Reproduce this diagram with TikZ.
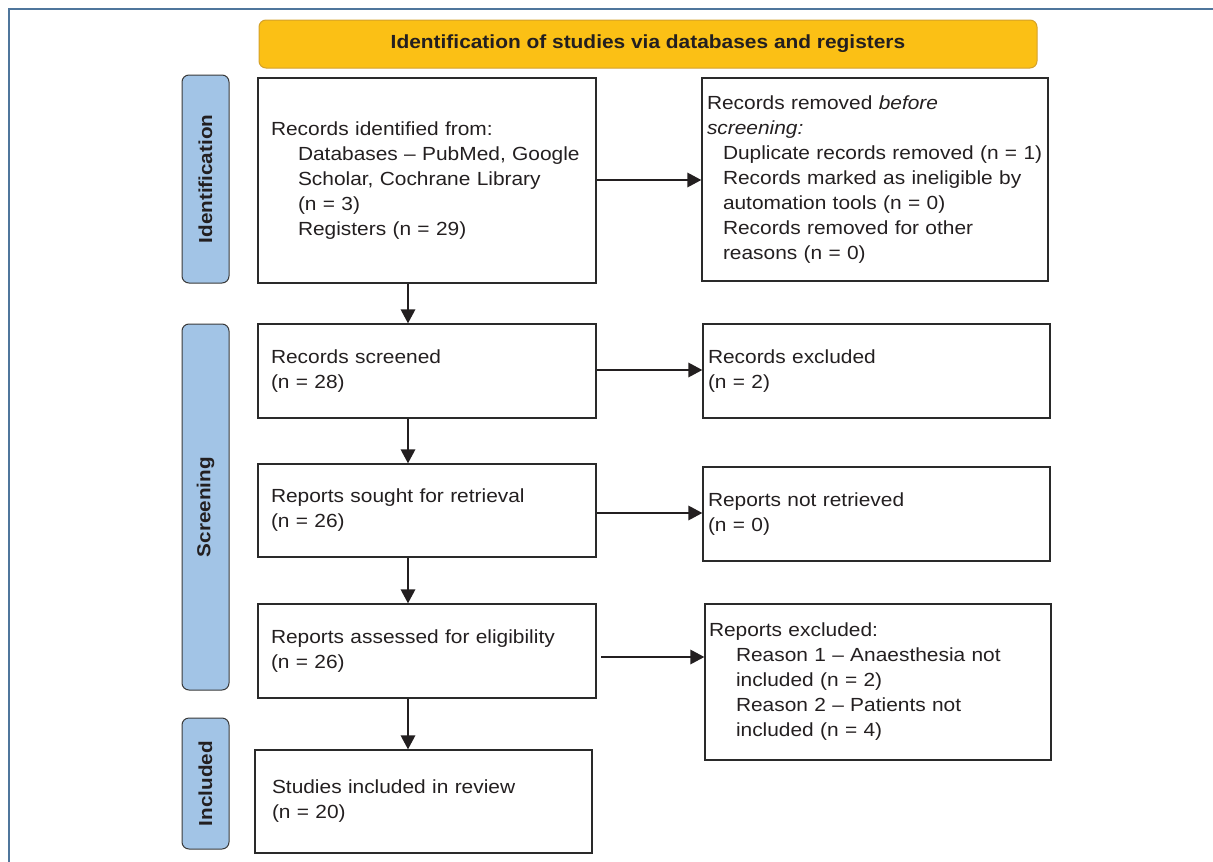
\documentclass[tikz,border=0pt]{standalone}
\usepackage{fontspec}
\setmainfont{Liberation Sans}[FakeStretch=1.1]
\usetikzlibrary{arrows.meta}
\definecolor{framecol}{HTML}{4F769C}
\definecolor{hdrfill}{HTML}{FBC015}
\definecolor{hdrdraw}{HTML}{D4A12A}
\definecolor{sidefill}{HTML}{A2C4E6}
\definecolor{sidedraw}{HTML}{3A3A3A}
\definecolor{boxdraw}{HTML}{2A2A2A}
\definecolor{txt}{HTML}{231F20}
\tikzset{
  box/.style={draw=boxdraw, line width=1.1pt, rectangle, align=left, inner ysep=0pt,
    font=\fontsize{19pt}{25pt}\selectfont, text=txt},
  sidebar/.style={draw=sidedraw, fill=sidefill, line width=1pt, rounded corners=7pt,
    minimum width=47pt, inner sep=0pt},
  sidelabel/.style={rotate=90, font=\fontsize{18.8pt}{22pt}\selectfont\bfseries, text=txt},
  flow/.style={line width=2.9pt, -{Triangle[length=14pt,width=14pt]}, txt}
}
\begin{document}
\begin{tikzpicture}[x=1pt,y=-1pt]
\useasboundingbox (0,0) rectangle (1213,862);
% frame
\draw[framecol, line width=1.6pt] (9,870) -- (9,9) -- (1220,9);
% header
\node[draw=hdrdraw, fill=hdrfill, line width=1pt, rounded corners=7pt,
  minimum width=778pt, minimum height=48pt, inner sep=0pt,
  font=\fontsize{19pt}{22pt}\selectfont\bfseries, text=txt] (hdr) at (648,44)
  {Identification of studies via databases and registers};
% side bars
\node[sidebar, minimum height=208pt] (sid) at (205.5,179) {};
\node[sidelabel] at (sid.center) {Identification};
\node[sidebar, minimum height=366pt] (sscr) at (205.5,507) {};
\node[sidelabel] at (sscr.center) {Screening};
\node[sidebar, minimum height=131pt] (sinc) at (205.5,783.5) {};
\node[sidelabel] at (sinc.center) {Included};
% left boxes
\node[box, minimum width=338pt, minimum height=205pt, inner xsep=13pt, text width=312pt] (b1) at (427,180.5)
  {Records identified from:\\
   \hspace*{27pt}Databases -- PubMed, Google\\
   \hspace*{27pt}Scholar, Cochrane Library\\
   \hspace*{27pt}(n = 3)\\
   \hspace*{27pt}Registers (n = 29)};
\node[box, minimum width=338pt, minimum height=94pt, inner xsep=13pt, text width=312pt] (b2) at (427,371)
  {Records screened\\(n = 28)};
\node[box, minimum width=338pt, minimum height=93pt, inner xsep=13pt, text width=312pt] (b3) at (427,510.5)
  {Reports sought for retrieval\\(n = 26)};
\node[box, minimum width=338pt, minimum height=94pt, inner xsep=13pt, text width=312pt] (b4) at (427,651)
  {Reports assessed for eligibility\\(n = 26)};
\node[box, minimum width=337pt, minimum height=103pt, inner xsep=17pt, text width=303pt] (b5) at (423.5,801.5)
  {Studies included in review\\(n = 20)};
% right boxes
\node[box, minimum width=346pt, minimum height=203pt, inner xsep=5pt, text width=336pt] (r1) at (875,179.5)
  {Records removed \textit{before}\\
   \textit{screening:}\\
   \hspace*{16pt}Duplicate records removed (n = 1)\\
   \hspace*{16pt}Records marked as ineligible by\\
   \hspace*{16pt}automation tools (n = 0)\\
   \hspace*{16pt}Records removed for other\\
   \hspace*{16pt}reasons (n = 0)};
\node[box, minimum width=347pt, minimum height=94pt, inner xsep=5pt, text width=337pt] (r2) at (876.5,371)
  {Records excluded\\(n = 2)};
\node[box, minimum width=347pt, minimum height=94pt, inner xsep=5pt, text width=337pt] (r3) at (876.5,514)
  {Reports not retrieved\\(n = 0)};
\node[box, minimum width=346pt, minimum height=156pt, inner xsep=4pt, text width=338pt] (r4) at (878,682)
  {Reports excluded:\\
   \hspace*{27pt}Reason 1 -- Anaesthesia not\\
   \hspace*{27pt}included (n = 2)\\
   \hspace*{27pt}Reason 2 -- Patients not\\
   \hspace*{27pt}included (n = 4)};
% vertical arrows
\draw[flow] (b1.south -| 408,0) -- (b2.north -| 408,0);
\draw[flow] (b2.south -| 408,0) -- (b3.north -| 408,0);
\draw[flow] (b3.south -| 408,0) -- (b4.north -| 408,0);
\draw[flow] (b4.south -| 408,0) -- (b5.north -| 408,0);
% horizontal arrows
\draw[flow] (b1.east |- 0,180) -- (r1.west |- 0,180);
\draw[flow] (b2.east |- 0,370) -- (r2.west |- 0,370);
\draw[flow] (b3.east |- 0,513) -- (r3.west |- 0,513);
\coordinate (a4s) at (601,657);
\draw[flow] (a4s) -- (r4.west |- a4s);
\end{tikzpicture}
\end{document}
